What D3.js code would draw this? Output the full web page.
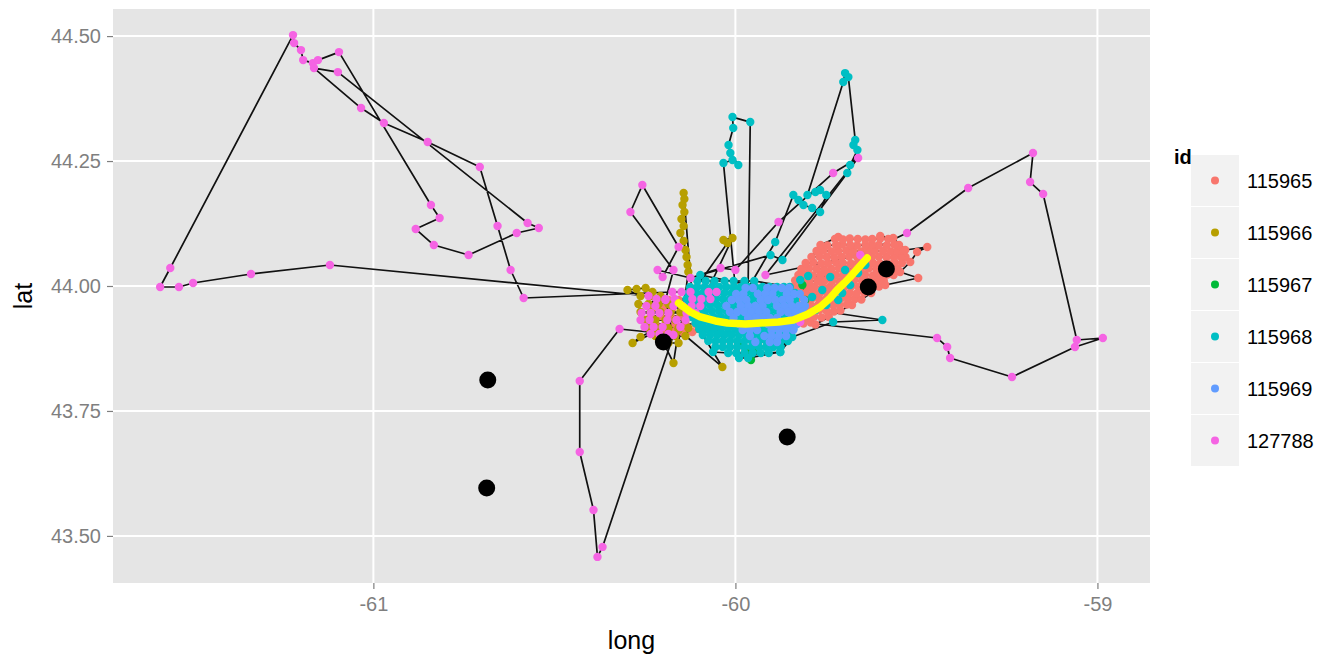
<!DOCTYPE html>
<html>
<head>
<meta charset="utf-8">
<script src="https://cdn.jsdelivr.net/npm/d3@7"></script>
<style>
  body { margin: 0; background: #ffffff; }
  text { font-family: "Liberation Sans", Arial, Helvetica, sans-serif; }
</style>
</head>
<body>
<svg id="chart" width="1331" height="658"></svg>
<script>
// ---- tag ids and their colours ----
const ids = ["115965", "115966", "115967", "115968", "115969", "127788"];
const idColors = ["#F8766D", "#B79F00", "#00BA38", "#00BFC4", "#619CFF", "#F564E3"];

// ---- axis ticks ----
const longTicks = [-61, -60, -59];
const longTickLabels = ["-61", "-60", "-59"];
const latTicks = [43.5, 43.75, 44.0, 44.25, 44.5];
const latTickLabels = ["43.50", "43.75", "44.00", "44.25", "44.50"];

// ---- positions [long, lat] in recorded order, one array per tag ----
const track115965 = [
  [-60.212,43.972],[-60.185,43.972],[-60.157,43.972],[-60.130,43.972],
  [-60.097,43.956],[-60.119,43.956],[-60.146,43.956],[-60.174,43.956],[-60.201,43.956],[-60.229,43.956],
  [-60.234,43.940],[-60.207,43.940],[-60.179,43.940],[-60.152,43.940],[-60.124,43.940],[-60.097,43.940],
  [-60.110,43.924],[-60.138,43.924],[-60.166,43.924],[-60.193,43.924],[-60.221,43.924],
  [-60.201,43.908],[-60.174,43.908],[-60.146,43.908],[-60.119,43.908],
  [-59.832,43.926],[-59.812,43.925],[-59.792,43.927],[-59.779,43.923],
  [-59.742,43.938],[-59.762,43.937],[-59.782,43.939],[-59.802,43.938],[-59.822,43.936],[-59.842,43.938],
  [-59.848,43.950],[-59.828,43.951],[-59.808,43.949],[-59.788,43.950],[-59.768,43.952],[-59.748,43.950],[-59.728,43.949],[-59.710,43.951],
  [-59.678,43.962],[-59.692,43.963],[-59.712,43.961],[-59.731,43.962],[-59.752,43.963],[-59.772,43.962],[-59.792,43.961],[-59.812,43.962],[-59.832,43.963],[-59.850,43.962],
  [-59.848,43.974],[-59.830,43.975],[-59.810,43.973],[-59.790,43.974],[-59.770,43.975],[-59.750,43.974],[-59.730,43.973],[-59.710,43.974],[-59.690,43.975],[-59.670,43.974],[-59.652,43.973],
  [-59.625,43.986],[-59.644,43.987],[-59.665,43.985],[-59.684,43.986],[-59.704,43.987],[-59.725,43.986],[-59.745,43.985],[-59.766,43.986],[-59.785,43.987],[-59.806,43.986],[-59.826,43.985],[-59.846,43.986],
  [-59.840,43.998],[-59.821,43.999],[-59.800,43.997],[-59.781,43.998],[-59.760,43.999],[-59.740,43.998],[-59.720,43.997],[-59.700,43.998],[-59.680,43.999],[-59.660,43.998],[-59.640,43.997],[-59.620,43.998],[-59.603,43.999],
  [-59.590,44.010],[-59.610,44.011],[-59.631,44.009],[-59.650,44.010],[-59.672,44.011],[-59.692,44.010],[-59.712,44.009],[-59.733,44.010],[-59.754,44.011],[-59.773,44.010],[-59.795,44.009],[-59.814,44.010],[-59.835,44.011],
  [-59.826,44.022],[-59.806,44.023],[-59.786,44.021],[-59.765,44.022],[-59.744,44.023],[-59.723,44.022],[-59.703,44.021],[-59.682,44.022],[-59.661,44.023],[-59.642,44.022],[-59.620,44.021],[-59.601,44.022],[-59.580,44.023],[-59.563,44.022],
  [-59.552,44.034],[-59.571,44.035],[-59.590,44.033],[-59.611,44.034],[-59.632,44.035],[-59.653,44.034],[-59.672,44.033],[-59.694,44.034],[-59.714,44.035],[-59.735,44.034],[-59.755,44.033],[-59.776,44.034],[-59.797,44.035],[-59.818,44.034],
  [-59.806,44.046],[-59.785,44.047],[-59.763,44.045],[-59.744,44.046],[-59.722,44.047],[-59.703,44.046],[-59.681,44.045],[-59.662,44.046],[-59.642,44.047],[-59.620,44.046],[-59.601,44.045],[-59.580,44.046],[-59.560,44.047],[-59.540,44.046],
  [-59.530,44.058],[-59.543,44.059],[-59.562,44.057],[-59.583,44.058],[-59.604,44.059],[-59.623,44.058],[-59.645,44.057],[-59.664,44.058],[-59.686,44.059],[-59.706,44.058],[-59.727,44.057],[-59.748,44.058],[-59.768,44.059],[-59.790,44.058],
  [-59.776,44.070],[-59.757,44.071],[-59.735,44.069],[-59.716,44.070],[-59.694,44.071],[-59.675,44.070],[-59.652,44.069],[-59.633,44.070],[-59.615,44.071],[-59.592,44.070],[-59.571,44.069],[-59.553,44.070],[-59.534,44.071],
  [-59.548,44.082],[-59.561,44.083],[-59.582,44.081],[-59.604,44.082],[-59.623,44.083],[-59.641,44.082],[-59.664,44.081],[-59.683,44.082],[-59.705,44.083],[-59.722,44.082],[-59.746,44.081],[-59.765,44.082],
  [-59.716,44.098],
  [-59.725,44.094],[-59.703,44.093],[-59.684,44.095],[-59.662,44.094],[-59.641,44.093],[-59.622,44.094],[-59.600,44.095],[-59.578,44.094],
  [-59.600,44.100],[-59.564,44.096],[-59.531,44.072],[-59.470,44.078],[-59.498,44.068],[-59.517,44.048],
  [-59.545,44.028],[-59.495,44.016],[-59.586,44.002]
];

const track115966 = [
  [-60.229,43.988],[-60.248,43.996],[-60.273,43.994],[-60.298,43.992],
  [-60.262,43.980],[-60.234,43.980],[-60.207,43.980],
  [-60.185,43.964],[-60.212,43.964],[-60.240,43.964],[-60.268,43.964],
  [-60.262,43.948],[-60.234,43.948],[-60.207,43.948],[-60.179,43.948],[-60.152,43.948],
  [-60.138,43.932],[-60.166,43.932],[-60.193,43.932],[-60.221,43.932],[-60.248,43.932],
  [-60.240,43.916],[-60.212,43.916],[-60.185,43.916],[-60.157,43.916],[-60.130,43.916],
  [-60.138,43.900],[-60.166,43.900],[-60.193,43.900],[-60.221,43.900],
  [-60.185,43.886],[-60.157,43.886],
  [-60.130,44.028],[-60.132,44.042],[-60.135,44.058],[-60.138,44.072],[-60.143,44.090],[-60.152,44.106],
  [-60.143,44.120],[-60.149,44.134],[-60.141,44.148],[-60.146,44.162],[-60.141,44.174],[-60.143,44.186],
  [-60.120,43.985],
  [-60.022,44.086],[-60.033,44.092],[-60.008,44.096],
  [-60.097,43.960],
  [-60.262,43.898],[-60.284,43.886],[-60.215,43.910],[-60.171,43.846],[-60.157,43.912],
  [-60.036,43.838],[-60.100,43.914]
];

const track115967 = [
  [-59.992,43.882],[-59.972,43.868],[-59.950,43.872],[-59.957,43.852],[-59.807,43.972],[-59.815,44.002]
];

const track115968 = [
  [-60.105,44.010],[-60.082,44.010],[-60.058,44.010],[-60.030,44.010],[-60.005,44.010],[-59.975,44.010],[-59.948,44.010],
  [-59.850,43.998],[-59.866,43.998],[-59.885,43.998],[-59.905,43.998],[-59.925,43.998],[-59.945,43.998],[-59.965,43.998],[-59.985,43.998],[-60.005,43.998],[-60.025,43.998],[-60.045,43.998],[-60.065,43.998],[-60.085,43.998],[-60.105,43.998],[-60.125,43.998],
  [-60.130,43.986],[-60.110,43.986],[-60.090,43.986],[-60.070,43.986],[-60.050,43.986],[-60.030,43.986],[-60.010,43.986],[-59.990,43.986],[-59.970,43.986],[-59.950,43.986],[-59.930,43.986],[-59.910,43.986],[-59.890,43.986],[-59.870,43.986],[-59.850,43.986],[-59.835,43.986],
  [-59.835,43.974],[-59.855,43.974],[-59.875,43.974],[-59.895,43.974],[-59.915,43.974],[-59.935,43.974],[-59.955,43.974],[-59.975,43.974],[-59.995,43.974],[-60.015,43.974],[-60.035,43.974],[-60.055,43.974],[-60.075,43.974],[-60.095,43.974],[-60.115,43.974],[-60.135,43.974],
  [-60.130,43.962],[-60.110,43.962],[-60.090,43.962],[-60.070,43.962],[-60.050,43.962],[-60.030,43.962],[-60.010,43.962],[-59.990,43.962],[-59.970,43.962],[-59.950,43.962],[-59.930,43.962],[-59.910,43.962],[-59.890,43.962],[-59.870,43.962],[-59.850,43.962],[-59.830,43.962],
  [-59.825,43.950],[-59.845,43.950],[-59.865,43.950],[-59.885,43.950],[-59.905,43.950],[-59.925,43.950],[-59.945,43.950],[-59.965,43.950],[-59.985,43.950],[-60.005,43.950],[-60.025,43.950],[-60.045,43.950],[-60.065,43.950],[-60.085,43.950],[-60.105,43.950],[-60.125,43.950],
  [-60.120,43.938],[-60.100,43.938],[-60.080,43.938],[-60.060,43.938],[-60.040,43.938],[-60.020,43.938],[-60.000,43.938],[-59.980,43.938],[-59.960,43.938],[-59.940,43.938],[-59.920,43.938],[-59.900,43.938],[-59.880,43.938],[-59.860,43.938],[-59.840,43.938],
  [-59.830,43.926],[-59.850,43.926],[-59.870,43.926],[-59.890,43.926],[-59.910,43.926],[-59.930,43.926],[-59.950,43.926],[-59.970,43.926],[-59.990,43.926],[-60.010,43.926],[-60.030,43.926],[-60.050,43.926],[-60.070,43.926],[-60.090,43.926],[-60.110,43.926],
  [-60.100,43.914],[-60.080,43.914],[-60.060,43.914],[-60.040,43.914],[-60.020,43.914],[-60.000,43.914],[-59.980,43.914],[-59.960,43.914],[-59.940,43.914],[-59.920,43.914],[-59.900,43.914],[-59.880,43.914],[-59.860,43.914],[-59.840,43.914],
  [-59.850,43.902],[-59.870,43.902],[-59.890,43.902],[-59.910,43.902],[-59.930,43.902],[-59.950,43.902],[-59.970,43.902],[-59.990,43.902],[-60.010,43.902],[-60.030,43.902],[-60.050,43.902],[-60.070,43.902],[-60.090,43.902],
  [-60.075,43.890],[-60.055,43.890],[-60.035,43.890],[-60.015,43.890],[-59.995,43.890],[-59.975,43.890],[-59.955,43.890],[-59.935,43.890],[-59.915,43.890],[-59.895,43.890],[-59.875,43.890],[-59.855,43.890],
  [-59.875,43.878],[-59.895,43.878],[-59.915,43.878],[-59.935,43.878],[-59.955,43.878],[-59.975,43.878],[-59.995,43.878],[-60.015,43.878],[-60.035,43.878],[-60.055,43.878],
  [-60.062,43.868],[-60.020,43.866],[-59.998,43.866],[-59.975,43.866],[-59.952,43.866],[-59.930,43.866],[-59.908,43.866],[-59.876,43.868],
  [-59.965,43.856],[-59.990,43.856],
  // north-west excursion
  [-60.000,43.996],[-60.033,44.246],[-60.008,44.252],[-59.992,44.242],[-60.014,44.266],[-60.019,44.282],
  [-60.006,44.316],[-60.008,44.338],[-59.959,44.328],[-59.965,43.995],
  // north-east excursion
  [-59.890,44.088],[-59.840,44.182],[-59.826,44.172],[-59.812,44.162],[-59.788,44.156],[-59.766,44.148],
  [-59.749,44.182],[-59.766,44.192],[-59.779,44.188],[-59.801,44.182],[-59.702,44.408],[-59.697,44.426],
  [-59.688,44.418],[-59.669,44.292],[-59.674,44.282],[-59.663,44.272],[-59.683,44.242],[-59.691,44.226],
  [-59.870,44.052],[-59.903,44.062],[-60.097,44.022],[-59.880,43.990],
  // eastern fixes
  [-59.821,44.012],[-59.799,44.020],[-59.738,44.018],[-59.661,44.026],[-59.641,44.042],[-59.697,44.032],
  [-59.683,44.002],[-59.705,43.986],[-59.760,43.992],[-59.788,43.978],[-59.716,43.972],[-59.749,43.962],
  [-59.779,43.952],[-59.594,43.932],[-59.730,43.928],[-59.843,43.898],[-59.876,43.868]
];

const track115969 = [
  [-59.972,43.996],[-59.952,43.996],[-59.912,43.996],[-59.892,43.996],[-59.872,43.996],[-59.852,43.996],
  [-59.822,43.984],[-59.838,43.984],[-59.858,43.984],[-59.898,43.984],[-59.918,43.984],[-59.938,43.984],[-59.978,43.984],[-59.998,43.984],
  [-60.010,43.972],[-59.990,43.972],[-59.970,43.972],[-59.930,43.972],[-59.910,43.972],[-59.890,43.972],[-59.870,43.972],[-59.850,43.972],[-59.810,43.972],
  [-59.808,43.960],[-59.825,43.960],[-59.845,43.960],[-59.865,43.960],[-59.885,43.960],[-59.925,43.960],[-59.945,43.960],[-59.965,43.960],[-59.985,43.960],[-60.025,43.960],
  [-60.015,43.948],[-59.995,43.948],[-59.975,43.948],[-59.955,43.948],[-59.935,43.948],[-59.915,43.948],[-59.875,43.948],[-59.855,43.948],[-59.835,43.948],[-59.815,43.948],
  [-59.825,43.936],[-59.845,43.936],[-59.885,43.936],[-59.905,43.936],[-59.925,43.936],[-59.945,43.936],[-59.965,43.936],[-60.005,43.936],
  [-59.990,43.924],[-59.970,43.924],[-59.950,43.924],[-59.910,43.924],[-59.890,43.924],[-59.870,43.924],[-59.850,43.924],[-59.830,43.924],
  [-59.840,43.912],[-59.860,43.912],[-59.880,43.912],[-59.900,43.912],[-59.940,43.912],[-59.960,43.912],[-59.980,43.912],
  [-59.960,43.900],[-59.920,43.900],[-59.900,43.900],[-59.880,43.900],[-59.860,43.900],
  [-59.885,43.888],[-59.905,43.888],[-59.945,43.888]
];

const track127788 = [
  [-60.240,43.980],
  // western loop
  [-61.120,44.042],[-61.338,44.024],[-61.498,44.006],[-61.537,43.998],[-61.589,43.998],[-61.561,44.036],
  [-61.222,44.502],[-61.219,44.486],[-61.200,44.472],[-61.194,44.452],[-61.167,44.446],[-61.153,44.452],
  [-61.095,44.468],[-60.841,44.162],[-60.817,44.136],[-60.883,44.114],[-60.833,44.082],[-60.737,44.062],
  [-60.604,44.106],[-60.543,44.116],[-60.574,44.126],[-61.098,44.428],[-61.164,44.436],[-61.034,44.356],
  [-60.971,44.326],[-60.850,44.288],[-60.706,44.238],[-60.657,44.120],[-60.621,44.032],[-60.585,43.976],
  // near the island
  [-60.174,43.988],[-60.149,43.988],[-60.124,43.988],[-60.074,43.988],[-60.052,43.988],
  [-60.069,43.974],[-60.094,43.974],[-60.119,43.974],[-60.168,43.974],[-60.193,43.974],[-60.218,43.974],
  [-60.246,43.960],[-60.221,43.960],[-60.171,43.960],[-60.146,43.960],[-60.121,43.960],[-60.097,43.960],
  [-60.110,43.946],[-60.135,43.946],[-60.185,43.946],[-60.210,43.946],[-60.234,43.946],[-60.259,43.946],
  [-60.262,43.932],[-60.237,43.932],[-60.188,43.932],[-60.163,43.932],[-60.138,43.932],
  [-60.152,43.918],[-60.201,43.918],[-60.226,43.918],[-60.251,43.918],
  [-60.234,43.904],[-60.210,43.904],[-60.185,43.904],
  // southern loop
  [-60.320,43.914],[-60.430,43.810],[-60.430,43.668],[-60.392,43.552],[-60.381,43.458],[-60.367,43.478],
  [-60.171,43.902],[-60.193,43.972],[-60.171,44.032],[-60.290,44.148],[-60.257,44.202],[-60.157,44.078],
  [-60.201,44.018],[-60.215,44.032],[-60.124,44.016],[-60.041,44.036],[-60.000,44.032],
  // north-east and eastern loop
  [-59.881,44.128],[-59.730,44.226],[-59.661,44.256],[-59.917,44.022],[-59.655,44.062],[-59.526,44.106],
  [-59.357,44.196],[-59.178,44.266],[-59.186,44.208],[-59.150,44.184],[-59.057,43.892],[-58.985,43.896],
  [-59.062,43.878],[-59.236,43.818],[-59.407,43.856],[-59.415,43.878],[-59.443,43.896],[-59.821,43.928]
];

const tracks = [track115965, track115966, track115967, track115968, track115969, track127788];

// island outline
const islandLong = [-60.157,-60.124,-60.097,-60.055,-60.022,-59.972,-59.931,-59.881,-59.840,-59.799,-59.766,-59.738,-59.719,-59.699,-59.683,-59.661,-59.636];
const islandLat  = [43.966, 43.948, 43.938, 43.930, 43.926, 43.924, 43.926, 43.928, 43.932, 43.944, 43.958, 43.976, 43.992, 44.006, 44.018, 44.036, 44.056];

// receiver stations
const stationLong = [-60.684, -60.687, -59.857, -60.199, -59.633, -59.583];
const stationLat  = [43.812, 43.596, 43.698, 43.888, 43.998, 44.034];

// ---- layout ----
const svg = d3.select("#chart");
const panel = { left: 113, right: 1150, top: 9, bottom: 583 };

// scales trained on every layer, expanded 5% each side
const allLong = tracks.flat().map(d => d[0]).concat(islandLong, stationLong);
const allLat  = tracks.flat().map(d => d[1]).concat(islandLat, stationLat);
const lonExt = d3.extent(allLong), latExt = d3.extent(allLat);
const lonPad = (lonExt[1] - lonExt[0]) * 0.05, latPad = (latExt[1] - latExt[0]) * 0.05;
const x = d3.scaleLinear().domain([lonExt[0] - lonPad, lonExt[1] + lonPad]).range([panel.left, panel.right]);
const y = d3.scaleLinear().domain([latExt[0] - latPad, latExt[1] + latPad]).range([panel.bottom, panel.top]);

// panel background and grid
svg.append("rect")
  .attr("x", panel.left).attr("y", panel.top)
  .attr("width", panel.right - panel.left).attr("height", panel.bottom - panel.top)
  .attr("fill", "#e5e5e5");

svg.append("g").selectAll("line").data(longTicks).join("line")
  .attr("x1", d => x(d)).attr("x2", d => x(d))
  .attr("y1", panel.top).attr("y2", panel.bottom)
  .attr("stroke", "#ffffff").attr("stroke-width", 2);
svg.append("g").selectAll("line").data(latTicks).join("line")
  .attr("y1", d => y(d)).attr("y2", d => y(d))
  .attr("x1", panel.left).attr("x2", panel.right)
  .attr("stroke", "#ffffff").attr("stroke-width", 2);

svg.append("clipPath").attr("id", "panelClip").append("rect")
  .attr("x", panel.left).attr("y", panel.top)
  .attr("width", panel.right - panel.left).attr("height", panel.bottom - panel.top);
const plot = svg.append("g").attr("clip-path", "url(#panelClip)");

// track lines
const line = d3.line().x(d => x(d[0])).y(d => y(d[1]));
plot.append("g").selectAll("path").data(tracks).join("path")
  .attr("d", line)
  .attr("fill", "none")
  .attr("stroke", "#111111")
  .attr("stroke-width", 1.7)
  .attr("stroke-linejoin", "round");

// fixes coloured by tag
tracks.forEach((t, i) => {
  plot.append("g").selectAll("circle").data(t).join("circle")
    .attr("cx", d => x(d[0])).attr("cy", d => y(d[1]))
    .attr("r", 4.2)
    .attr("fill", idColors[i]);
});

// island
const island = d3.zip(islandLong, islandLat);
plot.append("path")
  .attr("d", line(island))
  .attr("fill", "none")
  .attr("stroke", "#ffff00")
  .attr("stroke-width", 7.5)
  .attr("stroke-linecap", "round")
  .attr("stroke-linejoin", "round");

// stations
plot.append("g").selectAll("circle").data(d3.zip(stationLong, stationLat)).join("circle")
  .attr("cx", d => x(d[0])).attr("cy", d => y(d[1]))
  .attr("r", 8.5)
  .attr("fill", "#000000");

// axes
const axisX = svg.append("g").attr("transform", `translate(0,${panel.bottom})`)
  .call(d3.axisBottom(x).tickValues(longTicks).tickFormat((d, i) => longTickLabels[i]).tickSize(6).tickPadding(8));
const axisY = svg.append("g").attr("transform", `translate(${panel.left},0)`)
  .call(d3.axisLeft(y).tickValues(latTicks).tickFormat((d, i) => latTickLabels[i]).tickSize(6).tickPadding(6));
[axisX, axisY].forEach(a => {
  a.select(".domain").remove();
  a.selectAll(".tick line").attr("stroke", "#7f7f7f").attr("stroke-width", 1.2);
  a.selectAll(".tick text").attr("fill", "#7f7f7f").style("font-size", "20px")
    .style("font-family", "'Liberation Sans', Arial, sans-serif");
});

// axis titles
svg.append("text")
  .attr("x", (panel.left + panel.right) / 2).attr("y", 649)
  .attr("text-anchor", "middle").attr("fill", "#000")
  .style("font-size", "25px").text("long");
svg.append("text")
  .attr("transform", `translate(32,${(panel.top + panel.bottom) / 2}) rotate(-90)`)
  .attr("text-anchor", "middle").attr("fill", "#000")
  .style("font-size", "25px").text("lat");

// legend
const legend = svg.append("g");
legend.append("text")
  .attr("x", 1174).attr("y", 164)
  .attr("fill", "#000").style("font-size", "20px").style("font-weight", "bold")
  .text("id");
const keyTop = 155, keyH = 52;
ids.forEach((id, i) => {
  const k = legend.append("g").attr("transform", `translate(1191,${keyTop + i * keyH})`);
  k.append("rect").attr("width", 48).attr("height", keyH - 1).attr("fill", "#f2f2f2");
  k.append("circle").attr("cx", 24).attr("cy", (keyH - 1) / 2).attr("r", 4).attr("fill", idColors[i]);
  k.append("text").attr("x", 56).attr("y", (keyH - 1) / 2 + 7)
    .attr("fill", "#000").style("font-size", "20px").text(id);
});
</script>
</body>
</html>
